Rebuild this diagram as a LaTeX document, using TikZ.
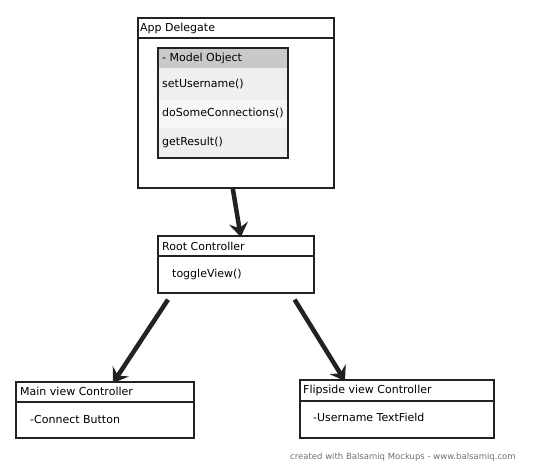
\documentclass[tikz,border=0pt]{standalone}
\usepackage{fontspec}
\setmainfont{DejaVu Sans}
\usetikzlibrary{arrows.meta}
\definecolor{ink}{HTML}{222222}
\definecolor{hdr}{HTML}{C9C9C9}
\definecolor{rowa}{HTML}{EEEFEE}
\definecolor{rowb}{HTML}{F7F7F7}
\definecolor{foot}{HTML}{707070}
\tikzset{
  box/.style={draw=ink, line width=1.6pt, anchor=north west, inner sep=0pt},
  sep/.style={draw=ink, line width=1.6pt},
  lbl/.style={anchor=west, inner sep=0pt, font=\fontsize{11}{13}\selectfont, text=black},
  arr/.style={draw=ink, line width=4.5pt, -{Stealth[length=14pt,width=19pt,inset=5pt]}},
}
\begin{document}
\begin{tikzpicture}[x=1pt,y=-1pt]
\useasboundingbox (0,0) rectangle (540,469);
% App Delegate
\node[box, minimum width=196pt, minimum height=170pt] (ad) at (137,17) {};
\draw[sep] (ad.west |- 0,38) -- (ad.east |- 0,38);
\node[lbl] (adt) at (140,28) {App Delegate};
% Model object
\fill[hdr] (157,47) rectangle (287,68);
\fill[rowa] (157,68) rectangle (287,100);
\fill[rowb] (157,100) rectangle (287,128);
\fill[rowa] (157,128) rectangle (287,157);
\node[box, minimum width=130pt, minimum height=110pt] (mo) at (157,47) {};
\node[lbl] (mot) at (162,58) {- Model Object};
\node[lbl] (m1) at (162,84) {setUsername()};
\node[lbl] (m2) at (162,113) {doSomeConnections()};
\node[lbl] (m3) at (162,142) {getResult()};
% Root Controller
\node[box, minimum width=156pt, minimum height=57pt] (rc) at (157,235) {};
\draw[sep] (rc.west |- 0,256) -- (rc.east |- 0,256);
\node[lbl] (rct) at (162,246) {Root Controller};
\node[lbl] (rc1) at (172,274) {toggleView()};
% Main view Controller
\node[box, minimum width=178pt, minimum height=56pt] (mv) at (15,381) {};
\draw[sep] (mv.west |- 0,402) -- (mv.east |- 0,402);
\node[lbl] (mvt) at (20,391) {Main view Controller};
\node[lbl] (mv1) at (30,419) {-Connect Button};
% Flipside view Controller
\node[box, minimum width=194pt, minimum height=58pt] (fv) at (299,379) {};
\draw[sep] (fv.west |- 0,401) -- (fv.east |- 0,401);
\node[lbl] (fvt) at (303,390) {Flipside view Controller};
\node[lbl] (fv1) at (313,417) {-Username TextField};
% arrows
\draw[arr] ([xshift=-3pt]ad.south) -- ([xshift=5pt,yshift=-2pt]rc.north);
\draw[arr] ([xshift=11pt,yshift=-6pt]rc.south west) -- ([xshift=98pt,yshift=-2pt]mv.north west);
\draw[arr] ([xshift=-20pt,yshift=-6pt]rc.south east) -- ([xshift=46pt,yshift=-2pt]fv.north west);
% footer
\node[anchor=west, inner sep=0pt, font=\fontsize{8.5}{10}\selectfont, text=foot] (ft) at (290,457) {created with Balsamiq Mockups - www.balsamiq.com};
\end{tikzpicture}
\end{document}
